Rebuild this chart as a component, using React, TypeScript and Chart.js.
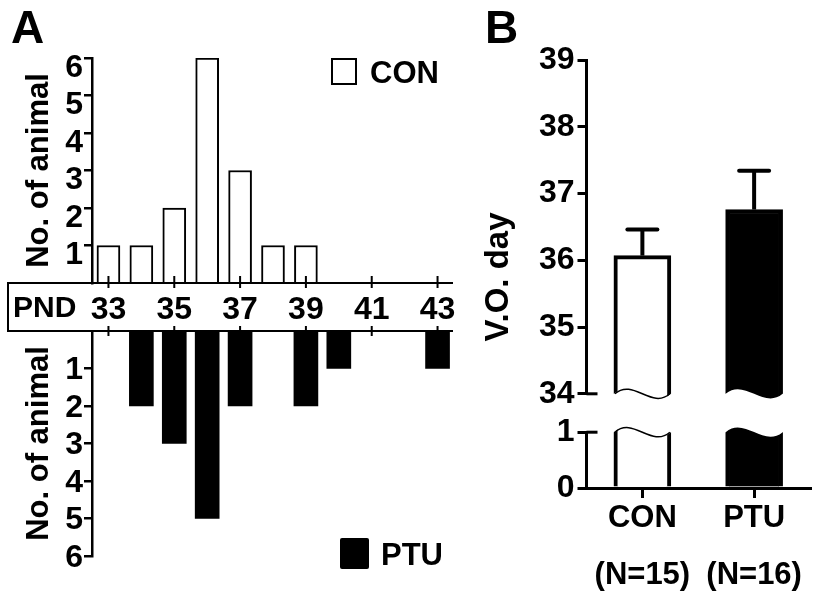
import React, { useEffect, useRef } from 'react';
import { Chart, registerables } from 'chart.js';

Chart.register(...registerables);

const FONT = "'Liberation Sans', Arial, Helvetica, sans-serif";

// ---- Panel A data ----
const days = ['33', '34', '35', '36', '37', '38', '39', '40', '41', '42', '43'];
const labeledDays = ['33', '35', '37', '39', '41', '43'];
const conCounts = [1, 1, 2, 6, 3, 1, 1, 0, 0, 0, 0];
const ptuCounts = [0, 2, 3, 5, 2, 0, 2, 1, 0, 0, 1];

// ---- Panel B data ----
const groups = ['CON', 'PTU'];
const groupN = ['(N=15)', '(N=16)'];
const voMean = [36.07, 36.76];
const voSem = [0.39, 0.58];

const tickFont = { family: FONT, size: 32, weight: 'bold' as const };
const titleFont = { family: FONT, size: 31, weight: 'bold' as const };

const pndTickPlugin = {
  id: 'pndTicks',
  afterDraw(chart: any, _args: any, opts: any) {
    const { ctx, chartArea } = chart;
    const xs = chart.scales.x;
    const y = opts.edge === 'bottom' ? chartArea.bottom : chartArea.top;
    ctx.save();
    ctx.strokeStyle = '#000';
    ctx.lineWidth = 2;
    ctx.beginPath();
    labeledDays.forEach((d) => {
      const px = xs.getPixelForValue(days.indexOf(d));
      ctx.moveTo(px, y - opts.above);
      ctx.lineTo(px, y + opts.below);
    });
    ctx.stroke();
    ctx.restore();
  },
};

function wave(ctx: CanvasRenderingContext2D, x0: number, x1: number, b: number) {
  const w = x1 - x0;
  ctx.bezierCurveTo(x0 + w / 3, b - 16, x0 + (2 * w) / 3, b + 16, x1, b);
}

const breakPlugin = {
  id: 'axisBreak',
  afterDatasetsDraw(chart: any, _args: any, opts: any) {
    const { ctx, chartArea } = chart;
    const ys = chart.scales.y;
    const upper = opts.part === 'upper';
    const b = upper ? chartArea.bottom : chartArea.top;
    const far = upper ? b + 18 : b - 18;
    const meta = chart.getDatasetMeta(0);
    ctx.save();
    meta.data.forEach((el: any, i: number) => {
      const { x, width } = el.getProps(['x', 'width'], true);
      const x0 = x - width / 2;
      const x1 = x + width / 2;
      ctx.beginPath();
      ctx.moveTo(x0 - 3, far);
      ctx.lineTo(x0 - 3, b);
      ctx.lineTo(x0, b);
      wave(ctx, x0, x1, b);
      ctx.lineTo(x1 + 3, b);
      ctx.lineTo(x1 + 3, far);
      ctx.closePath();
      ctx.fillStyle = '#fff';
      ctx.fill();
      if (opts.outlined[i]) {
        ctx.beginPath();
        ctx.moveTo(x0 + 1, b);
        wave(ctx, x0 + 1, x1 - 1, b);
        ctx.strokeStyle = '#000';
        ctx.lineWidth = 1.5;
        ctx.stroke();
      }
    });
    const ty = ys.getPixelForValue(upper ? ys.min : ys.max);
    ctx.beginPath();
    ctx.moveTo(chartArea.left, ty);
    ctx.lineTo(chartArea.left + 11, ty);
    ctx.strokeStyle = '#000';
    ctx.lineWidth = 3;
    ctx.stroke();
    ctx.restore();
  },
};

const errorBarPlugin = {
  id: 'errorBars',
  afterDatasetsDraw(chart: any) {
    const { ctx } = chart;
    const ys = chart.scales.y;
    const meta = chart.getDatasetMeta(0);
    ctx.save();
    ctx.strokeStyle = '#000';
    ctx.lineWidth = 4;
    meta.data.forEach((el: any, i: number) => {
      const { x, y } = el.getProps(['x', 'y'], true);
      const top = ys.getPixelForValue(voMean[i] + voSem[i]);
      ctx.lineCap = 'butt';
      ctx.beginPath();
      ctx.moveTo(x, y);
      ctx.lineTo(x, top);
      ctx.stroke();
      ctx.lineCap = 'round';
      ctx.beginPath();
      ctx.moveTo(x - 15, top);
      ctx.lineTo(x + 15, top);
      ctx.stroke();
    });
    ctx.restore();
  },
};

const noUI = { legend: { display: false }, tooltip: { enabled: false } };

function countAxis(reverse: boolean, labelOffset: number) {
  return {
    min: 0,
    max: 6,
    reverse,
    grid: { display: true, drawOnChartArea: false, tickLength: 8, lineWidth: 2.5, color: '#000' },
    border: { display: true, width: 2.5, color: '#000' },
    ticks: {
      stepSize: 1,
      autoSkip: false,
      padding: 1,
      labelOffset,
      color: '#000',
      font: tickFont,
      callback: (v: any) => (v === 0 ? null : String(v)),
    },
    title: {
      display: true,
      text: 'No. of animal',
      color: '#000',
      font: titleFont,
      padding: { top: 21, bottom: 0 },
    },
    afterFit: (s: any) => {
      s.width = 92;
    },
  };
}

export default function App() {
  const aTop = useRef<HTMLCanvasElement>(null);
  const aBot = useRef<HTMLCanvasElement>(null);
  const bTop = useRef<HTMLCanvasElement>(null);
  const bBot = useRef<HTMLCanvasElement>(null);

  useEffect(() => {
    const charts: Chart[] = [];

    charts.push(
      new Chart(aTop.current!, {
        type: 'bar',
        data: {
          labels: days,
          datasets: [
            {
              data: conCounts,
              backgroundColor: '#fff',
              borderColor: '#000',
              borderWidth: (c: any) => (c.raw ? 2 : 0),
              borderSkipped: 'start',
              barThickness: 23,
            },
          ],
        },
        options: {
          responsive: false,
          animation: false,
          devicePixelRatio: 1,
          layout: { padding: { top: 58, right: 16, bottom: 0, left: 0 } },
          plugins: { ...noUI, pndTicks: { edge: 'bottom', above: 7, below: 5 } } as any,
          scales: {
            x: {
              type: 'category',
              offset: true,
              grid: { display: false },
              border: { display: false },
              ticks: {
                autoSkip: false,
                maxRotation: 0,
                padding: 0,
                color: '#000',
                font: tickFont,
                callback: (v: any) => (labeledDays.includes(days[v]) ? days[v] : null),
              },
              afterFit: (s: any) => {
                s.height = 48;
              },
            } as any,
            y: countAxis(false, 10) as any,
          },
        },
        plugins: [pndTickPlugin],
      })
    );

    charts.push(
      new Chart(aBot.current!, {
        type: 'bar',
        data: {
          labels: days,
          datasets: [
            {
              data: ptuCounts,
              backgroundColor: '#000',
              borderWidth: 0,
              barThickness: 24,
            },
          ],
        },
        options: {
          responsive: false,
          animation: false,
          devicePixelRatio: 1,
          layout: { padding: { top: 31, right: 16, bottom: 39, left: 0 } },
          plugins: { ...noUI, pndTicks: { edge: 'top', above: 5, below: 5 } } as any,
          scales: {
            x: { type: 'category', offset: true, display: false } as any,
            y: countAxis(true, 2) as any,
          },
        },
        plugins: [pndTickPlugin],
      })
    );

    const vAxisCommon = {
      grid: { display: true, drawOnChartArea: false, tickLength: 9, lineWidth: 3, color: '#000' },
      border: { display: true, width: 3, color: '#000' },
      afterFit: (s: any) => {
        s.width = 116.5;
      },
    };

    charts.push(
      new Chart(bTop.current!, {
        type: 'bar',
        data: {
          labels: groups,
          datasets: [
            {
              data: voMean,
              backgroundColor: ['#fff', '#000'],
              borderColor: '#000',
              borderWidth: 4,
              borderSkipped: false,
              barThickness: 57,
              clip: { left: 10, right: 10, top: 10, bottom: 12 } as any,
            },
          ],
        },
        options: {
          responsive: false,
          animation: false,
          devicePixelRatio: 1,
          layout: { padding: { top: 60, right: 17, bottom: 16, left: 0 } },
          plugins: { ...noUI, axisBreak: { part: 'upper', outlined: [true, false] } } as any,
          scales: {
            x: { type: 'category', offset: true, display: false } as any,
            y: {
              min: 34,
              max: 39,
              ...vAxisCommon,
              ticks: { stepSize: 1, autoSkip: false, padding: 3, color: '#000', font: tickFont },
            } as any,
          },
        },
        plugins: [breakPlugin, errorBarPlugin],
      })
    );

    charts.push(
      new Chart(bBot.current!, {
        type: 'bar',
        data: {
          labels: groups,
          datasets: [
            {
              data: voMean,
              backgroundColor: ['#fff', '#000'],
              borderColor: '#000',
              borderWidth: 4,
              borderSkipped: 'start',
              barThickness: 57,
              clip: { left: 10, right: 10, top: 12, bottom: 0 } as any,
            },
          ],
        },
        options: {
          responsive: false,
          animation: false,
          devicePixelRatio: 1,
          layout: { padding: { top: 18, right: 17, bottom: 0, left: 0 } },
          plugins: { ...noUI, axisBreak: { part: 'lower', outlined: [true, false] } } as any,
          scales: {
            x: {
              type: 'category',
              offset: true,
              z: 1,
              grid: {
                display: true,
                drawOnChartArea: false,
                offset: false,
                tickLength: 10,
                lineWidth: 3,
                color: '#000',
              },
              border: { display: true, width: 3, color: '#000' },
              ticks: {
                autoSkip: false,
                maxRotation: 0,
                padding: -8.5,
                color: '#000',
                font: { family: FONT, size: 31, weight: 'bold', lineHeight: 1.84 },
                callback: (v: any) => [groups[v], groupN[v]],
              },
              afterFit: (s: any) => {
                s.height = 107;
              },
            } as any,
            y: {
              min: 0,
              max: 1,
              ...vAxisCommon,
              ticks: { stepSize: 1, autoSkip: false, padding: 3, color: '#000', font: tickFont },
            } as any,
          },
        },
        plugins: [breakPlugin],
      })
    );

    return () => charts.forEach((c) => c.destroy());
  }, []);

  const txt = (extra: React.CSSProperties): React.CSSProperties => ({
    position: 'absolute',
    fontFamily: FONT,
    fontWeight: 'bold',
    lineHeight: 1,
    color: '#000',
    whiteSpace: 'nowrap',
    ...extra,
  });

  return (
    <div
      style={{
        position: 'absolute',
        left: 0,
        top: 0,
        width: 827,
        height: 595,
        background: '#fff',
        overflow: 'hidden',
      }}
    >
      <canvas ref={aTop} width={470} height={331} style={{ position: 'absolute', left: 0, top: 0, width: 470, height: 331 }} />
      <canvas ref={aBot} width={470} height={295} style={{ position: 'absolute', left: 0, top: 300, width: 470, height: 295 }} />
      <canvas ref={bTop} width={357} height={416} style={{ position: 'absolute', left: 470, top: 0, width: 357, height: 416 }} />
      <canvas ref={bBot} width={357} height={185} style={{ position: 'absolute', left: 470, top: 410, width: 357, height: 185 }} />

      {/* PND frame */}
      <div
        style={{
          position: 'absolute',
          left: 7,
          top: 282,
          width: 446,
          height: 50,
          boxSizing: 'border-box',
          borderTop: '2px solid #000',
          borderBottom: '2px solid #000',
          borderLeft: '2px solid #000',
        }}
      />
      <div style={txt({ left: 13, top: 292, fontSize: 30 })}>PND</div>

      {/* Panel letters */}
      <div style={txt({ left: 11, top: 4, fontSize: 46 })}>A</div>
      <div style={txt({ left: 485, top: 4, fontSize: 46 })}>B</div>

      {/* Legends */}
      <div
        style={{
          position: 'absolute',
          left: 331,
          top: 58,
          width: 26,
          height: 27,
          boxSizing: 'border-box',
          border: '2px solid #000',
          background: '#fff',
        }}
      />
      <div style={txt({ left: 370, top: 57, fontSize: 31 })}>CON</div>
      <div
        style={{
          position: 'absolute',
          left: 340,
          top: 538,
          width: 29,
          height: 31,
          borderRadius: 2,
          background: '#000',
        }}
      />
      <div style={txt({ left: 381, top: 539, fontSize: 31 })}>PTU</div>

      {/* Panel B y-axis title */}
      <div
        style={txt({
          left: 496,
          top: 277,
          fontSize: 33,
          transform: 'translate(-50%, -50%) rotate(-90deg)',
        })}
      >
        V.O. day
      </div>
    </div>
  );
}
